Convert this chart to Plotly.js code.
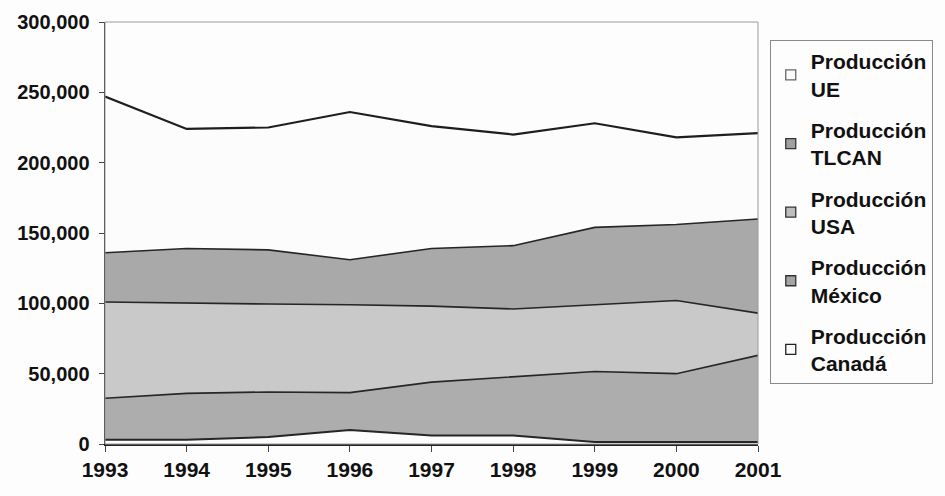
<!DOCTYPE html>
<html>
<head>
<meta charset="utf-8">
<script src="https://cdn.plot.ly/plotly-3.0.1.min.js"></script>
<style>
  html, body { margin: 0; padding: 0; background: #fdfdfd; }
  #chart { width: 945px; height: 496px; }
  .legend .traces { opacity: 1 !important; }
</style>
</head>
<body>
<div id="chart"></div>
<script>
// Data (toneladas)
const years = [1993, 1994, 1995, 1996, 1997, 1998, 1999, 2000, 2001];
const produccionUE     = [247000, 224000, 225000, 236000, 226000, 220000, 228000, 218000, 221000];
const produccionTLCAN  = [136000, 139000, 138000, 131000, 139000, 141000, 154000, 156000, 160000];
const produccionUSA    = [101000, 100000, 99500, 99000, 98000, 96000, 99000, 102000, 93000];
const produccionMexico = [32500, 36000, 37000, 36500, 44000, 48000, 51500, 50000, 63000];
const produccionCanada = [3000, 3000, 5000, 10000, 6000, 6000, 1500, 1500, 1500];
const seriesNames = ['Producción<br>UE', 'Producción<br>TLCAN', 'Producción<br>USA', 'Producción<br>México', 'Producción<br>Canadá'];
const yTicks = [0, 50000, 100000, 150000, 200000, 250000, 300000];
const yTickText = ['0', '50,000', '100,000', '150,000', '200,000', '250,000', '300,000'];

const fills = ['#fcfcfc', '#a9a9a9', '#c9c9c9', '#adadad', '#fcfcfc'];
const swatchFills = ['#fbfbfb', '#a0a0a0', '#bdbdbd', '#a4a4a4', '#fbfbfb'];
const swatchBorders = ['#666', '#333', '#333', '#333', '#222'];
const lineColors = ['#1e1e1e', '#262626', '#262626', '#262626', '#262626'];
const lineWidths = [2.2, 1.6, 1.6, 1.6, 2];
const allSeries = [produccionUE, produccionTLCAN, produccionUSA, produccionMexico, produccionCanada];

const areaTraces = allSeries.map((vals, i) => ({
  type: 'scatter',
  mode: 'lines',
  x: years,
  y: vals,
  name: seriesNames[i],
  legendgroup: 'g' + i,
  showlegend: false,
  fill: 'tozeroy',
  fillcolor: fills[i],
  line: { color: lineColors[i], width: lineWidths[i] },
  hoverinfo: 'x+y'
}));

// legend entries with square swatches (as in the original); legend only, not drawn in the plot
const legendTraces = allSeries.map((vals, i) => ({
  type: 'scatter',
  mode: 'markers',
  x: years,
  y: vals,
  name: seriesNames[i],
  legendgroup: 'g' + i,
  showlegend: true,
  visible: 'legendonly',
  marker: { symbol: 'square', size: 10, color: swatchFills[i], line: { color: swatchBorders[i], width: 1.3 } },
  hoverinfo: 'skip'
}));

const font = { family: 'Arial, "Liberation Sans", sans-serif', size: 21, color: '#111' };

const layout = {
  width: 945,
  height: 496,
  margin: { l: 105, r: 185, t: 22, b: 52 },
  paper_bgcolor: '#fdfdfd',
  plot_bgcolor: '#fdfdfd',
  font: font,
  showlegend: true,
  legend: {
    x: 1.018, xanchor: 'left',
    y: 0.957, yanchor: 'top',
    bordercolor: '#8a8a8a',
    borderwidth: 1,
    bgcolor: '#fdfdfd',
    tracegroupgap: 11,
    traceorder: 'grouped',
    itemwidth: 30,
    font: { family: font.family, size: 21, color: '#111', weight: 'bold' }
  },
  xaxis: {
    range: [1993, 2001],
    tickvals: years,
    ticktext: years.map(String),
    showgrid: false,
    zeroline: false,
    showline: true,
    linecolor: '#222',
    linewidth: 1.5,
    ticks: 'outside',
    ticklen: 6,
    tickcolor: '#444',
    tickfont: { family: font.family, size: 21, color: '#111', weight: 'bold' },
    fixedrange: true
  },
  yaxis: {
    range: [0, 300000],
    tickvals: yTicks,
    ticktext: yTickText,
    showgrid: false,
    zeroline: false,
    showline: true,
    linecolor: '#222',
    linewidth: 1.5,
    ticks: 'outside',
    ticklen: 5,
    tickcolor: '#444',
    ticklabelstandoff: 5,
    tickfont: { family: font.family, size: 20, color: '#111', weight: 'bold' },
    fixedrange: true
  },
  shapes: [
    {
      type: 'rect', xref: 'paper', yref: 'paper',
      x0: 0, x1: 1, y0: 0, y1: 1,
      line: { color: '#9a9a9a', width: 1 },
      layer: 'above'
    }
  ]
};

Plotly.newPlot('chart', areaTraces.concat(legendTraces), layout, { staticPlot: true, displayModeBar: false });
</script>
</body>
</html>
